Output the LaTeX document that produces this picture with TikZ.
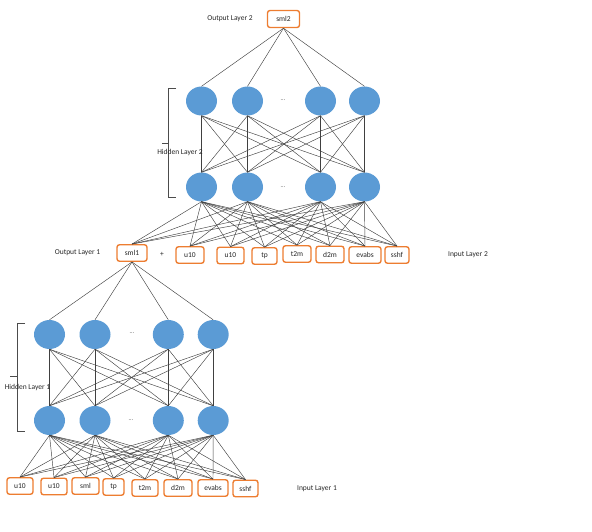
\documentclass[tikz,border=0pt]{standalone}
\usepackage{fontspec}
\setmainfont{Carlito}
\usetikzlibrary{shapes.geometric}
\definecolor{boxorange}{HTML}{ED7D31}
\definecolor{neuronblue}{HTML}{5B9BD5}
\begin{document}
\begin{tikzpicture}[x=1pt,y=-1pt,
  font=\fontsize{7.5}{9}\selectfont,
  neuron/.style={ellipse,fill=neuronblue,draw=none,minimum width=31pt,minimum height=29pt,inner sep=0},
  varbox/.style={draw=boxorange,line width=1.4pt,rounded corners=2.5pt,fill=white,minimum height=16.5pt,inner sep=0,text=black!85},
  link/.style={draw=black!75,line width=0.45pt},
  lbl/.style={text=black!85,inner sep=0},
  dots/.style={text=black!70,inner sep=0,font=\fontsize{6}{7}\selectfont},
  brk/.style={draw=black!70,line width=0.6pt}]
\useasboundingbox (0,0) rectangle (592,532);

% ---------- upper network ----------
\node[varbox,minimum width=32pt,minimum height=17pt] (sml2) at (283.5,19) {sml2};
\node[lbl] (ol2) at (230,19) {Output Layer 2};

\foreach \i/\x in {1/201.5,2/247.5,3/320.5,4/364.5}{
  \node[neuron] (ha\i) at (\x,101) {};
  \node[neuron] (hb\i) at (\x,187) {};
}
\node[dots] (d1) at (283,100) {...};
\node[dots] (d2) at (283,187) {...};

\node[varbox,minimum width=30pt] (sml1) at (132,253) {sml1};
\node[lbl] (plus) at (162,254) {+};
\node[varbox,minimum width=28pt] (q1) at (190,255) {u10};
\node[varbox,minimum width=27pt] (q2) at (230.5,255.5) {u10};
\node[varbox,minimum width=25pt] (q3) at (264.5,256) {tp};
\node[varbox,minimum width=28pt] (q4) at (297,254) {t2m};
\node[varbox,minimum width=28pt] (q5) at (330,254.5) {d2m};
\node[varbox,minimum width=32pt] (q6) at (365,255) {evabs};
\node[varbox,minimum width=24pt] (q7) at (397,255) {sshf};
\node[lbl] (ol1) at (77.5,253) {Output Layer 1};
\node[lbl] (il2) at (468,255) {Input Layer 2};

\begin{scope}[on background layer/.style={}]
\foreach \i in {1,...,4}{
  \draw[link] (sml2.south) -- (ha\i.north);
  \foreach \j in {1,...,4}{ \draw[link] (ha\i.south) -- (hb\j.north); }
  \foreach \t in {sml1,q1,q2,q3,q4,q5,q6,q7}{ \draw[link] (hb\i.south) -- (\t.north); }
}
\end{scope}

\draw[brk] (176,88) -- (168,88) -- (168,197) -- (176,197);
\draw[brk] (162,143) -- (168,143);
\node[lbl] (hl2) at (180,153) {Hidden Layer 2};

% ---------- lower network ----------
\foreach \i/\x in {1/49.5,2/95,3/168.3,4/213.2}{
  \node[neuron] (ga\i) at (\x,334.5) {};
  \node[neuron] (gb\i) at (\x,420.5) {};
}
\node[dots] (d3) at (132,333) {...};
\node[dots] (d4) at (131,420) {...};

\node[varbox,minimum width=26pt] (p1) at (20,486) {u10};
\node[varbox,minimum width=26pt] (p2) at (54,486.5) {u10};
\node[varbox,minimum width=27pt] (p3) at (85.5,486) {sml};
\node[varbox,minimum width=21pt] (p4) at (113.5,487) {tp};
\node[varbox,minimum width=26pt] (p5) at (145,488) {t2m};
\node[varbox,minimum width=28pt] (p6) at (178,488) {d2m};
\node[varbox,minimum width=30pt] (p7) at (213,488) {evabs};
\node[varbox,minimum width=25pt] (p8) at (245.5,488.5) {sshf};
\node[lbl] (il1) at (317,489) {Input Layer 1};

\foreach \i in {1,...,4}{
  \draw[link] (sml1.south) -- (ga\i.north);
  \foreach \j in {1,...,4}{ \draw[link] (ga\i.south) -- (gb\j.north); }
  \foreach \t in {p1,p2,p3,p4,p5,p6,p7,p8}{ \draw[link] (gb\i.south) -- (\t.north); }
}

\draw[brk] (25,323) -- (17,323) -- (17,431) -- (25,431);
\draw[brk] (10,376) -- (17,376);
\node[lbl] (hl1) at (27.5,387) {Hidden Layer 1};
\end{tikzpicture}
\end{document}
